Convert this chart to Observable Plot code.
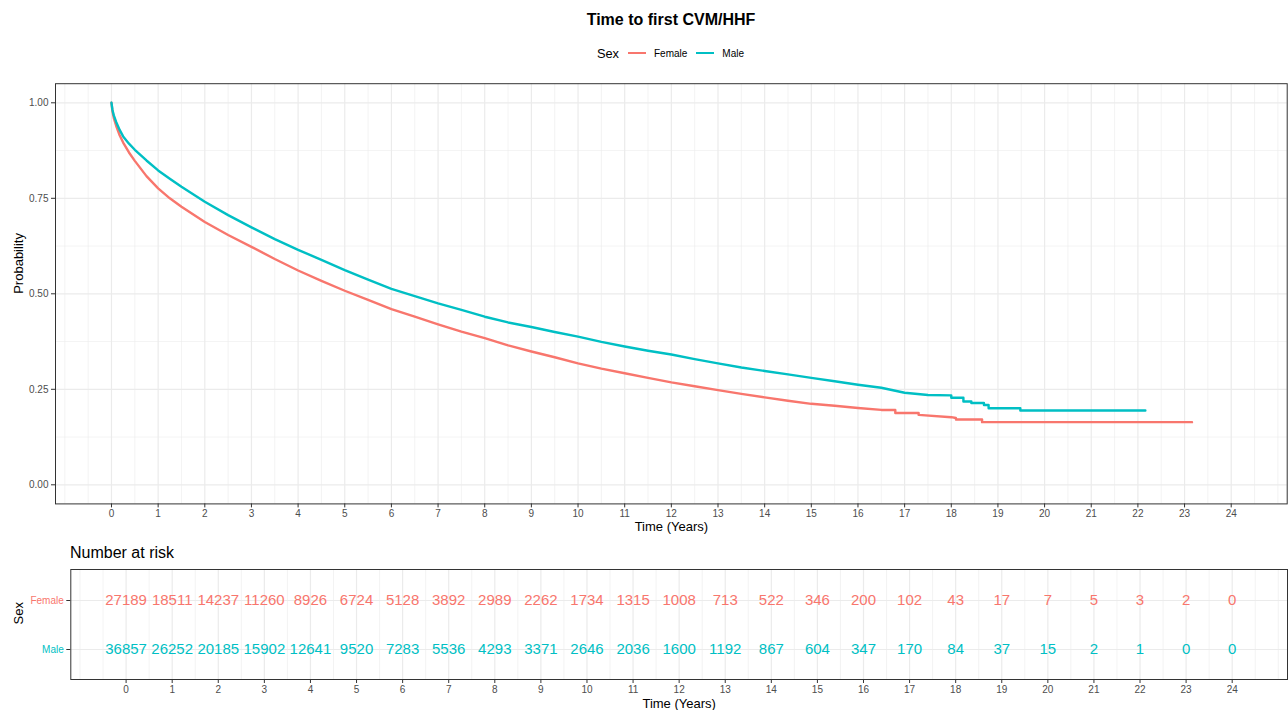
<!DOCTYPE html>
<html>
<head>
<meta charset="utf-8">
<script src="https://cdn.jsdelivr.net/npm/d3@7"></script>
<script src="https://cdn.jsdelivr.net/npm/@observablehq/plot@0.6"></script>
<style>
  body { margin: 0; background: #fff; font-family: "Liberation Sans", Arial, Helvetica, sans-serif; }
  #wrap { position: relative; width: 1288px; height: 710px; overflow: hidden; background: #fff; }
  #title { position: absolute; top: 0; left: 55px; width: 1232px; height: 40px; line-height: 40px; text-align: center; font-weight: bold; font-size: 16px; color: #000; }
  #legend { position: absolute; top: 40px; left: 59px; width: 1232px; height: 26px; display: flex; justify-content: center; align-items: center; color: #000; }
  #legend .lt { font-size: 12.8px; margin-right: 9px; }
  #legend .key { width: 18px; height: 2.5px; margin-right: 8px; }
  #legend .lab { font-size: 10px; margin-right: 9px; }
  #topchart { position: absolute; top: 70px; left: 0; }
  #risktitle { position: absolute; top: 541px; left: 70px; height: 24px; line-height: 24px; font-size: 16px; color: #000; }
  #bottomchart { position: absolute; top: 562px; left: 0; }
</style>
</head>
<body>
<div id="wrap">
  <div id="title">Time to first CVM/HHF</div>
  <div id="legend"></div>
  <div id="topchart"></div>
  <div id="risktitle">Number at risk</div>
  <div id="bottomchart"></div>
</div>
<script>
// ---------- data ----------
const sexes = ["Female", "Male"];
const sexColors = ["#F8766D", "#00BFC4"];

const femaleTime = [0, 0.02, 0.05, 0.1, 0.175, 0.25, 0.375, 0.5, 0.75, 1, 1.25, 1.5, 2, 2.5, 3, 3.5, 4, 4.5, 5, 5.5, 6, 6.5, 7, 7.5, 8, 8.5, 9, 9.5, 10, 10.5, 11, 11.5, 12, 12.5, 13, 13.5, 14, 14.5, 15, 15.5, 16, 16.5, 16.8, 16.8, 17.3, 17.3, 18, 18.1, 18.1, 18.66, 18.66, 23.16];
const femaleSurv = [1, 0.978, 0.960, 0.940, 0.915, 0.896, 0.870, 0.848, 0.808, 0.776, 0.750, 0.728, 0.688, 0.654, 0.623, 0.591, 0.561, 0.534, 0.508, 0.484, 0.460, 0.440, 0.420, 0.401, 0.384, 0.365, 0.349, 0.334, 0.318, 0.304, 0.292, 0.280, 0.268, 0.258, 0.248, 0.238, 0.229, 0.220, 0.212, 0.207, 0.201, 0.196, 0.196, 0.188, 0.188, 0.183, 0.177, 0.175, 0.171, 0.171, 0.164, 0.164];

const maleTime = [0, 0.02, 0.05, 0.1, 0.175, 0.25, 0.375, 0.5, 0.75, 1, 1.25, 1.5, 2, 2.5, 3, 3.5, 4, 4.5, 5, 5.5, 6, 6.5, 7, 7.5, 8, 8.5, 9, 9.5, 10, 10.5, 11, 11.5, 12, 12.5, 13, 13.5, 14, 14.5, 15, 15.5, 16, 16.5, 17, 17.5, 18, 18, 18.26, 18.26, 18.43, 18.43, 18.7, 18.7, 18.8, 18.8, 19.48, 19.48, 22.16];
const maleSurv = [1, 0.982, 0.967, 0.950, 0.929, 0.912, 0.893, 0.877, 0.849, 0.823, 0.801, 0.780, 0.741, 0.706, 0.674, 0.643, 0.615, 0.589, 0.562, 0.537, 0.513, 0.494, 0.475, 0.458, 0.440, 0.425, 0.413, 0.400, 0.388, 0.374, 0.362, 0.351, 0.341, 0.329, 0.318, 0.307, 0.298, 0.289, 0.280, 0.271, 0.262, 0.254, 0.241, 0.235, 0.234, 0.228, 0.228, 0.218, 0.218, 0.214, 0.214, 0.209, 0.209, 0.2005, 0.2005, 0.1945, 0.1945];

const riskTimes = [0, 1, 2, 3, 4, 5, 6, 7, 8, 9, 10, 11, 12, 13, 14, 15, 16, 17, 18, 19, 20, 21, 22, 23, 24];
const femaleRisk = [27189, 18511, 14237, 11260, 8926, 6724, 5128, 3892, 2989, 2262, 1734, 1315, 1008, 713, 522, 346, 200, 102, 43, 17, 7, 5, 3, 2, 0];
const maleRisk = [36857, 26252, 20185, 15902, 12641, 9520, 7283, 5536, 4293, 3371, 2646, 2036, 1600, 1192, 867, 604, 347, 170, 84, 37, 15, 2, 1, 0, 0];

const xTicks = riskTimes;
const yTicks = [0, 0.25, 0.5, 0.75, 1];
const yMinor = [0.125, 0.375, 0.625, 0.875];
const xDomain = [-1.2, 25.2];

// ---------- derived tables ----------
const curves = [
  ...femaleTime.map((t, i) => ({sex: "Female", t, s: femaleSurv[i]})),
  ...maleTime.map((t, i) => ({sex: "Male", t, s: maleSurv[i]}))
];
const risk = [
  ...riskTimes.map((t, i) => ({sex: "Female", t, n: femaleRisk[i]})),
  ...riskTimes.map((t, i) => ({sex: "Male", t, n: maleRisk[i]}))
];
const xMinor = d3.range(-1, 25.01, 0.5).filter(v => v < 0 || v > 24 || v % 1 !== 0);

const font = "'Liberation Sans', Arial, Helvetica, sans-serif";
const gridCol = "#ebebeb";
const colorScale = {domain: sexes, range: sexColors};

// ---------- legend ----------
const leg = document.getElementById("legend");
leg.innerHTML = `<span class="lt">Sex</span>` + sexes.map((s, i) =>
  `<span class="key" style="background:${sexColors[i]}"></span><span class="lab">${s}</span>`).join("");

// ---------- top plot ----------
const topPlot = Plot.plot({
  width: 1288, height: 470,
  marginTop: 13.2, marginBottom: 36.6, marginLeft: 55, marginRight: 1.3,
  style: {fontFamily: font, background: "white", color: "black"},
  x: {domain: xDomain},
  y: {domain: [-0.05, 1.05]},
  color: colorScale,
  marks: [
    Plot.ruleX(xMinor, {stroke: gridCol, strokeWidth: 0.6}),
    Plot.ruleY(yMinor, {stroke: gridCol, strokeWidth: 0.6}),
    Plot.ruleX(xTicks, {stroke: gridCol, strokeWidth: 1.2}),
    Plot.ruleY(yTicks, {stroke: gridCol, strokeWidth: 1.2}),
    Plot.line(curves, {x: "t", y: "s", z: "sex", stroke: "sex", strokeWidth: 2.4}),
    Plot.frame({stroke: "#333333", strokeWidth: 1}),
    Plot.axisX({ticks: xTicks, tickFormat: d3.format("d"), tickSize: 4, tickPadding: 2, fontSize: 10, stroke: "#333333", fill: "#4d4d4d", label: null}),
    Plot.axisY({ticks: yTicks, tickFormat: d3.format(".2f"), tickSize: 4, tickPadding: 3, fontSize: 10, stroke: "#333333", fill: "#4d4d4d", label: null}),
    Plot.text(["Time (Years)"], {text: d => d, frameAnchor: "bottom", dy: 22.6, lineAnchor: "middle", fontSize: 13, fill: "black"}),
    Plot.text(["Probability"], {text: d => d, frameAnchor: "left", dx: -37, rotate: -90, lineAnchor: "middle", fontSize: 13, fill: "black"})
  ]
});
document.getElementById("topchart").appendChild(topPlot);

// ---------- risk table ----------
const bottomPlot = Plot.plot({
  width: 1288, height: 148,
  marginTop: 7, marginBottom: 31, marginLeft: 70.3, marginRight: 1,
  style: {fontFamily: font, background: "white", color: "black"},
  x: {domain: xDomain},
  y: {type: "point", domain: sexes, padding: 0.6},
  color: colorScale,
  marks: [
    Plot.ruleX(xMinor, {stroke: gridCol, strokeWidth: 0.6}),
    Plot.ruleX(xTicks, {stroke: gridCol, strokeWidth: 1.2}),
    Plot.ruleY(sexes, {y: d => d, stroke: gridCol, strokeWidth: 1.2}),
    Plot.text(risk, {x: "t", y: "sex", text: d => String(d.n), fill: "sex", fontSize: 15}),
    Plot.frame({stroke: "#333333", strokeWidth: 1}),
    Plot.axisX({ticks: xTicks, tickFormat: d3.format("d"), tickSize: 4, tickPadding: 2, fontSize: 10, stroke: "#333333", fill: "#4d4d4d", label: null}),
    Plot.axisY({tickFormat: () => "", tickSize: 4, stroke: "#333333", label: null}),
    Plot.text(sexes, {y: d => d, text: d => d, fill: d => d, frameAnchor: "left", dx: -7, textAnchor: "end", fontSize: 10}),
    Plot.text(["Time (Years)"], {text: d => d, frameAnchor: "bottom", dy: 24, lineAnchor: "middle", fontSize: 13, fill: "black"}),
    Plot.text(["Sex"], {text: d => d, frameAnchor: "left", dx: -52.3, rotate: -90, lineAnchor: "middle", fontSize: 13, fill: "black"})
  ]
});
document.getElementById("bottomchart").appendChild(bottomPlot);
</script>
</body>
</html>
